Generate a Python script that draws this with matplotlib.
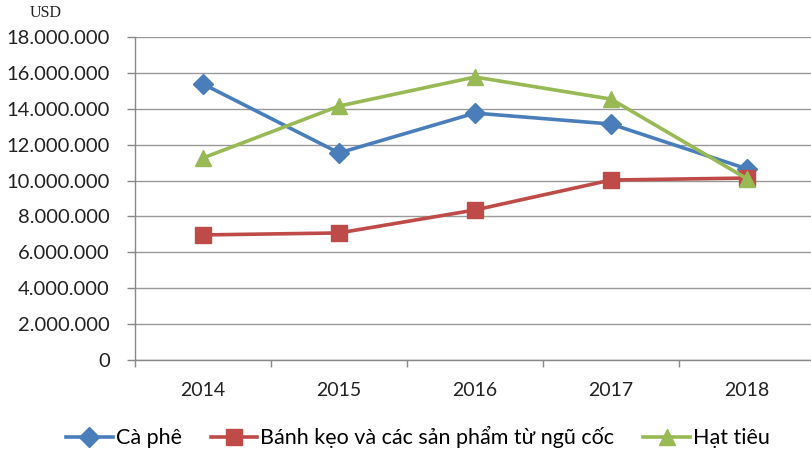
import matplotlib
matplotlib.use("Agg")
import matplotlib.pyplot as plt
from matplotlib.ticker import FuncFormatter

# data (USD)
years = ["2014", "2015", "2016", "2017", "2018"]
ca_phe = [15380000, 11540000, 13760000, 13150000, 10650000]
banh_keo = [6970000, 7080000, 8360000, 10030000, 10140000]
hat_tieu = [11260000, 14150000, 15770000, 14540000, 10100000]

labels = ["Cà phê", "Bánh kẹo và các sản phẩm từ ngũ cốc", "Hạt tiêu"]
yticks = list(range(0, 18000001, 2000000))

plt.rcParams['font.family'] = ['Lato', 'DejaVu Sans']

fig = plt.figure(figsize=(8.11, 4.53), dpi=100)
ax = fig.add_axes([135 / 811, 1 - 360 / 453, 680 / 811, 323 / 453])

x = list(range(len(years)))
ax.plot(x, ca_phe, color='#4A7EBB', lw=2.6, marker='D', ms=10, label=labels[0], zorder=3)
ax.plot(x, banh_keo, color='#BE4B48', lw=2.6, marker='s', ms=11, label=labels[1], zorder=4)
ax.plot(x, hat_tieu, color='#98B954', lw=2.6, marker='^', ms=12, label=labels[2], zorder=5)

ax.set_xlim(-0.5, len(years) - 0.5)
ax.set_ylim(0, 18000000)
ax.set_yticks(yticks)
ax.yaxis.set_major_formatter(FuncFormatter(lambda v, p: f"{int(v):,}".replace(",", ".")))
ax.set_xticks(x)
ax.set_xticklabels(years)
ax.set_xticks([i + 0.5 for i in range(-1, len(years))], minor=True)
ax.tick_params(axis='x', which='major', length=0, pad=16, labelsize=14, colors='#222222')
ax.tick_params(axis='x', which='minor', length=5, color='#888888', width=1)
ax.tick_params(axis='y', length=6, color='#888888', width=1, labelsize=14.5,
               labelcolor='#222222', pad=12)

ax.grid(axis='y', color='#999999', lw=1)
ax.set_axisbelow(True)
for s in ['top', 'right']:
    ax.spines[s].set_visible(False)
for s in ['left', 'bottom']:
    ax.spines[s].set_color('#888888')
    ax.spines[s].set_linewidth(1)

fig.text(46 / 811, 1 - 13 / 453, "USD", ha='center', va='center',
         family='Liberation Serif', fontsize=11.5, color='#222222')

fig.legend(loc='center', bbox_to_anchor=(418 / 811, 1 - 437 / 453), ncol=3,
           frameon=False, fontsize=15.5, handlelength=2.15, columnspacing=1.35,
           handletextpad=0.15, markerscale=1.0)

fig.savefig("out.png", dpi=100)
